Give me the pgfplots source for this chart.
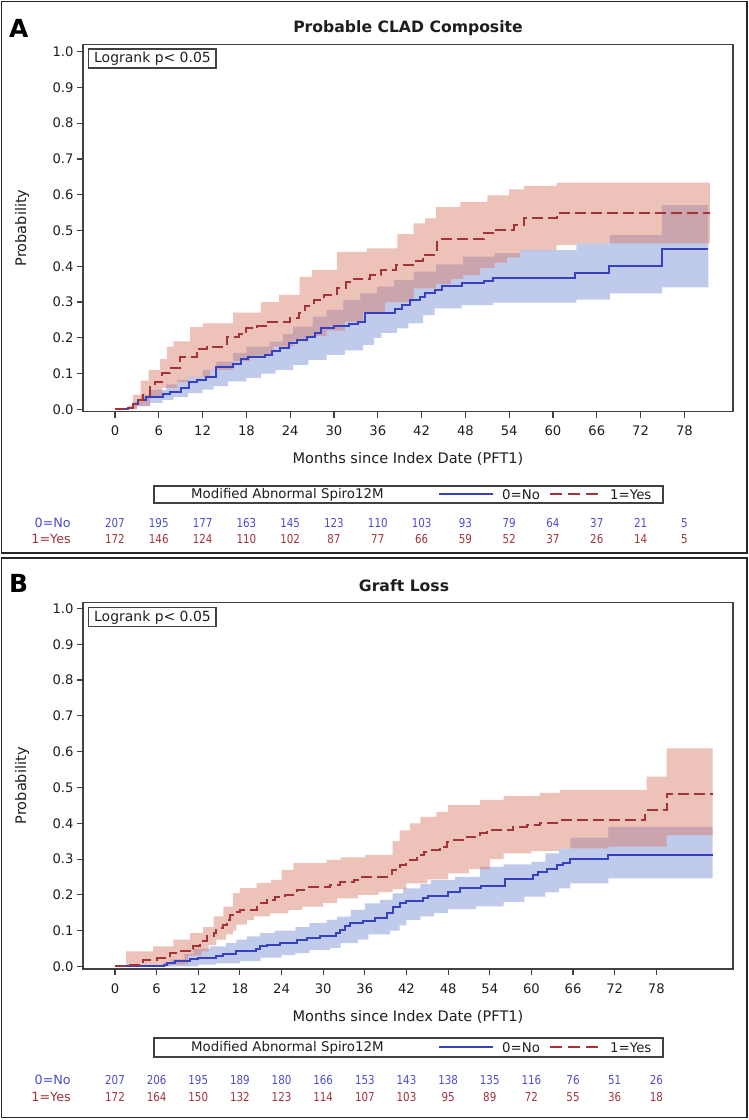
\documentclass[border=0pt]{standalone}
\usepackage{fontspec}
\setmainfont{DejaVu Sans}
\newfontfamily\numfont[FakeStretch=0.84]{DejaVu Sans}
\usepackage{pgfplots}
\usepackage{pgfplotstable}
\pgfplotsset{compat=1.18}
\usepgfplotslibrary{fillbetween}

\definecolor{noLine}{RGB}{55,65,195}
\definecolor{yesLine}{RGB}{165,50,55}
\definecolor{noBand}{RGB}{130,150,215}
\definecolor{yesBand}{RGB}{214,120,100}
\definecolor{noText}{RGB}{75,75,205}
\definecolor{yesText}{RGB}{160,50,60}
\definecolor{axisgray}{RGB}{65,65,65}
\definecolor{txt}{RGB}{30,30,30}

% ---------------- Panel A: Probable CLAD Composite ----------------
\pgfplotstableread{
m p
0 0
1.8 0.005
2.5 0.015
3.2 0.025
4.2 0.035
6.6 0.042
7.6 0.049
9.0 0.059
10.2 0.075
11.3 0.083
12.5 0.090
13.8 0.118
16.2 0.128
17.3 0.140
18.2 0.147
20.5 0.152
21.5 0.163
22.6 0.172
23.8 0.185
25.0 0.195
26.3 0.203
27.4 0.213
28.2 0.226
30.0 0.232
32.0 0.238
33.3 0.245
34.3 0.268
38.4 0.281
39.3 0.292
40.4 0.305
41.8 0.314
42.5 0.325
43.8 0.334
44.8 0.345
47.5 0.352
50.5 0.360
51.8 0.368
63.0 0.382
67.7 0.402
74.9 0.447
81.3 0.447
}\ANoEst
\pgfplotstableread{
m p
1.8 0.002
3.0 0.008
4.8 0.018
6.5 0.026
8.0 0.035
10.0 0.045
12.0 0.055
13.5 0.065
15.5 0.078
18.0 0.088
20.0 0.100
22.0 0.110
24.4 0.124
26.5 0.138
29.0 0.152
31.5 0.165
34.0 0.180
35.5 0.200
36.5 0.214
38.6 0.226
40.2 0.240
42.2 0.263
43.8 0.282
47.5 0.291
51.8 0.298
63.2 0.307
67.8 0.324
74.9 0.341
81.3 0.341
}\ANoLo
\pgfplotstableread{
m p
1.8 0.005
2.5 0.020
3.5 0.040
4.8 0.054
7.0 0.070
8.5 0.082
10.0 0.091
12.0 0.110
13.9 0.133
16.2 0.157
18.0 0.175
21.2 0.189
23.0 0.210
24.4 0.231
27.1 0.259
29.0 0.278
31.3 0.306
33.6 0.324
35.9 0.343
38.2 0.362
40.9 0.385
44.0 0.405
47.7 0.427
52.0 0.437
55.5 0.445
63.2 0.464
67.8 0.487
74.9 0.571
81.3 0.571
}\ANoHi
\pgfplotstableread{
m p
0 0
1.8 0.005
2.5 0.015
3.0 0.026
3.9 0.040
4.8 0.063
5.5 0.077
6.4 0.101
7.5 0.115
8.9 0.145
11.2 0.170
12.6 0.175
15.3 0.203
17.0 0.210
18.0 0.226
19.5 0.232
21.0 0.245
24.0 0.254
25.2 0.270
26.0 0.290
27.2 0.305
28.6 0.319
30.4 0.340
31.6 0.355
32.7 0.365
35.0 0.375
36.5 0.390
38.5 0.404
41.0 0.415
42.2 0.432
44.1 0.469
44.5 0.475
50.5 0.492
52.0 0.502
54.6 0.515
56.0 0.534
60.5 0.548
81.5 0.548
}\AYesEst
\pgfplotstableread{
m p
1.8 0.000
3.0 0.010
4.8 0.035
6.5 0.060
8.5 0.075
10.0 0.090
13.0 0.110
16.2 0.135
18.5 0.150
21.7 0.175
24.4 0.190
26.5 0.205
29.0 0.220
31.5 0.245
34.0 0.270
37.0 0.300
40.9 0.338
44.0 0.350
46.0 0.365
47.7 0.375
50.0 0.395
52.0 0.410
53.7 0.425
55.5 0.445
60.5 0.459
63.2 0.464
81.5 0.464
}\AYesLo
\pgfplotstableread{
m p
1.8 0.010
2.5 0.040
3.5 0.080
4.6 0.110
6.2 0.140
7.1 0.175
8.0 0.190
10.3 0.230
12.0 0.240
16.2 0.270
20.0 0.300
22.5 0.320
25.3 0.370
27.0 0.390
30.4 0.440
34.5 0.450
38.7 0.490
40.9 0.520
42.5 0.534
44.0 0.565
47.3 0.580
51.0 0.598
54.0 0.615
56.0 0.625
60.5 0.634
81.5 0.634
}\AYesHi

% ---------------- Panel B: Graft Loss ----------------
\pgfplotstableread{
m p
0 0
7.0 0.005
7.5 0.009
8.6 0.014
10.8 0.020
12.0 0.023
14.6 0.028
15.6 0.035
17.5 0.042
20.3 0.048
20.9 0.056
21.9 0.061
23.8 0.065
26.2 0.075
27.6 0.079
29.5 0.084
31.9 0.093
32.4 0.102
33.1 0.112
33.8 0.121
35.8 0.128
37.5 0.135
39.2 0.150
40.1 0.165
41.1 0.177
42.0 0.184
44.4 0.190
45.1 0.197
48.0 0.209
49.7 0.218
52.8 0.225
56.2 0.243
60.3 0.255
61.0 0.264
62.2 0.273
63.7 0.283
64.5 0.288
65.6 0.300
71.1 0.311
86.1 0.311
}\BNoEst
\pgfplotstableread{
m p
7.0 0.000
12.0 0.005
14.5 0.009
18.0 0.015
21.0 0.025
24.0 0.032
26.0 0.037
28.0 0.046
31.0 0.052
32.5 0.065
35.0 0.075
36.5 0.090
39.6 0.100
41.0 0.115
42.0 0.130
44.0 0.140
46.0 0.150
48.0 0.160
52.0 0.168
56.0 0.180
59.0 0.195
62.0 0.207
64.0 0.218
65.6 0.232
71.1 0.246
86.1 0.246
}\BNoLo
\pgfplotstableread{
m p
7.0 0.010
8.0 0.020
10.0 0.035
11.3 0.050
13.7 0.056
16.0 0.065
17.5 0.075
19.0 0.084
20.9 0.093
23.0 0.100
26.0 0.110
28.0 0.121
30.5 0.130
32.0 0.139
34.0 0.158
36.0 0.176
38.2 0.186
40.0 0.204
41.5 0.218
44.0 0.230
45.5 0.241
49.0 0.250
52.6 0.278
56.0 0.285
60.0 0.292
62.0 0.316
64.0 0.330
65.6 0.360
71.1 0.390
86.1 0.390
}\BNoHi
\pgfplotstableread{
m p
0 0
1.9 0.005
3.8 0.009
4.1 0.019
6.0 0.023
7.4 0.028
7.9 0.037
9.0 0.042
10.8 0.050
11.3 0.056
12.2 0.070
13.2 0.084
14.2 0.093
14.6 0.107
15.6 0.117
16.1 0.130
16.6 0.144
17.3 0.153
18.0 0.158
20.4 0.167
21.0 0.176
21.9 0.186
23.0 0.195
24.5 0.200
26.2 0.214
27.6 0.221
31.0 0.228
32.4 0.235
34.4 0.242
35.3 0.251
39.9 0.270
41.1 0.284
42.0 0.297
43.5 0.311
44.5 0.320
45.4 0.325
46.8 0.335
47.8 0.348
48.5 0.353
50.7 0.362
52.6 0.372
53.6 0.381
57.4 0.390
59.3 0.395
61.2 0.402
64.1 0.409
76.4 0.437
79.5 0.482
86.1 0.482
}\BYesEst
\pgfplotstableread{
m p
1.6 0.000
8.0 0.005
10.5 0.030
12.5 0.042
13.5 0.060
14.6 0.075
16.0 0.090
17.0 0.100
17.5 0.117
19.0 0.130
20.0 0.140
22.3 0.148
25.0 0.158
27.0 0.167
30.0 0.178
32.0 0.190
35.0 0.200
38.0 0.208
40.0 0.216
42.0 0.232
45.0 0.243
48.0 0.260
51.0 0.272
54.0 0.300
56.0 0.316
60.0 0.322
64.0 0.330
71.1 0.335
79.5 0.367
86.1 0.367
}\BYesLo
\pgfplotstableread{
m p
1.6 0.042
5.5 0.056
8.4 0.075
10.8 0.093
12.7 0.110
14.2 0.140
15.6 0.167
17.0 0.205
18.0 0.219
20.4 0.233
22.5 0.242
24.0 0.270
25.7 0.289
30.5 0.298
32.5 0.305
36.0 0.312
40.0 0.350
41.0 0.380
42.5 0.400
44.0 0.418
46.3 0.432
48.0 0.451
52.6 0.465
56.0 0.476
61.2 0.485
64.1 0.493
76.6 0.530
79.5 0.609
86.1 0.609
}\BYesHi

\pgfplotsset{
  kmaxis/.style={
    scale only axis, width=650bp,
    clip=false,
    axis line style={axisgray, line width=1.2bp},
    tick style={axisgray, line width=1.1bp},
    tick align=outside, major tick length=6bp,
    tick pos=left,
    xtick={0,6,...,78},
    ytick={0,0.1,0.2,0.3,0.4,0.5,0.6,0.7,0.8,0.9,1},
    /pgf/number format/assume math mode=true,
    ticklabel style={font=\fontsize{13.2}{15}\selectfont, text=txt},
    yticklabel style={/pgf/number format/fixed, /pgf/number format/fixed zerofill,
      /pgf/number format/precision=1},
    xticklabel style={/pgf/number format/fixed, yshift=-5bp},
    ylabel={Probability},
    xlabel={Months since Index Date (PFT1)},
    label style={font=\fontsize{14.6}{17}\selectfont, text=txt},
    ylabel style={at={(axis description cs:-0.0938,0.5)}, anchor=center},
    xlabel style={at={(axis description cs:0.5,-0.129)}, anchor=center},
  },
  band/.style={draw=none, const plot, forget plot},
  kmline/.style={const plot, line width=2bp},
}

\begin{document}
\begin{tikzpicture}
\path (0bp,0bp) rectangle (749bp,1120bp);

% ===== Panel A =====
\draw[black!85, line width=1.6bp] (1.5bp,1118.5bp) rectangle (747bp,567bp);
\node[anchor=base west, inner sep=0, font=\fontsize{25}{30}\selectfont\bfseries]
  at (9bp,1082bp) {A};
\node[anchor=base, inner sep=0, font=\fontsize{15.7}{19}\selectfont\bfseries, text=txt]
  at (408bp,1087bp) {Probable CLAD Composite};

\begin{axis}[kmaxis, name=axA,
  at={(83bp,708.3bp)}, anchor=south west, height=367.4bp,
  xmin=-4.38, xmax=84.66, ymin=-0.0067, ymax=1.0207]
  \addplot[band, name path=anolo] table[x=m,y=p]{\ANoLo};
  \addplot[band, name path=anohi] table[x=m,y=p]{\ANoHi};
  \addplot[fill=noBand, fill opacity=0.5, draw=none] fill between[of=anolo and anohi];
  \addplot[band, name path=ayeslo] table[x=m,y=p]{\AYesLo};
  \addplot[band, name path=ayeshi] table[x=m,y=p]{\AYesHi};
  \addplot[fill=yesBand, fill opacity=0.45, draw=none] fill between[of=ayeslo and ayeshi];
  \addplot[kmline, noLine] table[x=m,y=p]{\ANoEst};
  \addplot[kmline, yesLine, dash pattern=on 11bp off 5bp] table[x=m,y=p]{\AYesEst};
  % numbers at risk
  \foreach \m/\n in {0/207,6/195,12/177,18/163,24/145,30/123,36/110,42/103,48/93,54/79,60/64,66/37,72/21,78/5}{
    \edef\tmp{\noexpand\node[text=noText, font=\noexpand\numfont\noexpand\fontsize{12.3}{14}\noexpand\selectfont]
      at (axis cs:\m,-0.318) {\n};}\tmp}
  \foreach \m/\n in {0/172,6/146,12/124,18/110,24/102,30/87,36/77,42/66,48/59,54/52,60/37,66/26,72/14,78/5}{
    \edef\tmp{\noexpand\node[text=yesText, font=\noexpand\numfont\noexpand\fontsize{12.3}{14}\noexpand\selectfont]
      at (axis cs:\m,-0.3635) {\n};}\tmp}
\end{axis}

\draw[axisgray, line width=1.2bp] (88.5bp,1071bp) rectangle (216bp,1052bp);
\node[inner sep=0, font=\fontsize{14}{16}\selectfont, text=txt] at (152.5bp,1061.5bp) {Logrank p<~0.05};

\draw[axisgray, line width=1.2bp] (154bp,617bp) rectangle (663bp,634bp);
\node[anchor=west, inner sep=0, font=\fontsize{13.4}{16}\selectfont, text=txt] at (191bp,625.5bp) {Modified Abnormal Spiro12M};
\draw[noLine, line width=2bp] (439bp,625.5bp) -- (493bp,625.5bp);
\node[anchor=west, inner sep=0, font=\fontsize{13.4}{16}\selectfont, text=txt] at (502bp,625.5bp) {0=No};
\draw[yesLine, line width=2bp, dash pattern=on 12bp off 6bp] (550bp,625.5bp) -- (600bp,625.5bp);
\node[anchor=west, inner sep=0, font=\fontsize{13.4}{16}\selectfont, text=txt] at (610bp,625.5bp) {1=Yes};
\node[anchor=east, inner sep=0, font=\fontsize{12.8}{15}\selectfont, text=noText] at (71bp,597.5bp) {0=No};
\node[anchor=east, inner sep=0, font=\fontsize{12.8}{15}\selectfont, text=yesText] at (71bp,581bp) {1=Yes};

% ===== Panel B =====
\draw[black!85, line width=1.6bp] (1.5bp,562bp) rectangle (747bp,2.5bp);
\node[anchor=base west, inner sep=0, font=\fontsize{25}{30}\selectfont\bfseries]
  at (9bp,527bp) {B};
\node[anchor=base, inner sep=0, font=\fontsize{15.7}{19}\selectfont\bfseries, text=txt]
  at (404bp,528.3bp) {Graft Loss};

\begin{axis}[kmaxis, name=axB,
  at={(83bp,151bp)}, anchor=south west, height=366.3bp,
  xmin=-4.61, xmax=89.05, ymin=-0.007, ymax=1.016,
  xlabel style={at={(axis description cs:0.5,-0.131)}}]
  \addplot[band, name path=bnolo] table[x=m,y=p]{\BNoLo};
  \addplot[band, name path=bnohi] table[x=m,y=p]{\BNoHi};
  \addplot[fill=noBand, fill opacity=0.5, draw=none] fill between[of=bnolo and bnohi];
  \addplot[band, name path=byeslo] table[x=m,y=p]{\BYesLo};
  \addplot[band, name path=byeshi] table[x=m,y=p]{\BYesHi};
  \addplot[fill=yesBand, fill opacity=0.45, draw=none] fill between[of=byeslo and byeshi];
  \addplot[kmline, noLine] table[x=m,y=p]{\BNoEst};
  \addplot[kmline, yesLine, dash pattern=on 11bp off 5bp] table[x=m,y=p]{\BYesEst};
  % numbers at risk
  \foreach \m/\n in {0/207,6/206,12/195,18/189,24/180,30/166,36/153,42/143,48/138,54/135,60/116,66/76,72/51,78/26}{
    \edef\tmp{\noexpand\node[text=noText, font=\noexpand\numfont\noexpand\fontsize{12.3}{14}\noexpand\selectfont]
      at (axis cs:\m,-0.317) {\n};}\tmp}
  \foreach \m/\n in {0/172,6/164,12/150,18/132,24/123,30/114,36/107,42/103,48/95,54/89,60/72,66/55,72/36,78/18}{
    \edef\tmp{\noexpand\node[text=yesText, font=\noexpand\numfont\noexpand\fontsize{12.3}{14}\noexpand\selectfont]
      at (axis cs:\m,-0.3645) {\n};}\tmp}
\end{axis}

\draw[axisgray, line width=1.2bp] (88.5bp,512.3bp) rectangle (216bp,493.3bp);
\node[inner sep=0, font=\fontsize{14}{16}\selectfont, text=txt] at (152.5bp,502.8bp) {Logrank p<~0.05};

\draw[axisgray, line width=1.2bp] (154bp,63bp) rectangle (663bp,82bp);
\node[anchor=west, inner sep=0, font=\fontsize{13.4}{16}\selectfont, text=txt] at (191bp,72.5bp) {Modified Abnormal Spiro12M};
\draw[noLine, line width=2bp] (439bp,72.5bp) -- (493bp,72.5bp);
\node[anchor=west, inner sep=0, font=\fontsize{13.4}{16}\selectfont, text=txt] at (502bp,72.5bp) {0=No};
\draw[yesLine, line width=2bp, dash pattern=on 12bp off 6bp] (550bp,72.5bp) -- (600bp,72.5bp);
\node[anchor=west, inner sep=0, font=\fontsize{13.4}{16}\selectfont, text=txt] at (610bp,72.5bp) {1=Yes};
\node[anchor=east, inner sep=0, font=\fontsize{12.8}{15}\selectfont, text=noText] at (71bp,40bp) {0=No};
\node[anchor=east, inner sep=0, font=\fontsize{12.8}{15}\selectfont, text=yesText] at (71bp,23bp) {1=Yes};
\end{tikzpicture}
\end{document}
